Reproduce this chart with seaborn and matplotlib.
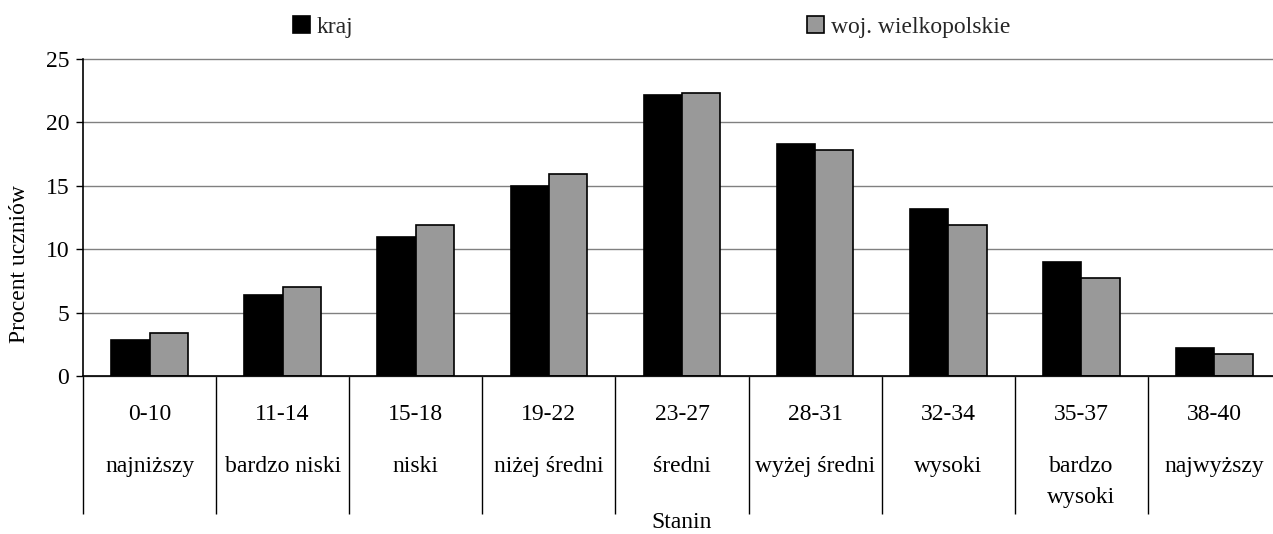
import numpy as np
import pandas as pd
import matplotlib
matplotlib.use("Agg")
import matplotlib.pyplot as plt
import matplotlib.transforms as mtransforms
import seaborn as sns

# ---- data ----
ranges = ["0-10", "11-14", "15-18", "19-22", "23-27", "28-31", "32-34", "35-37", "38-40"]
stanins = ["najniższy", "bardzo niski", "niski", "niżej średni", "średni",
           "wyżej średni", "wysoki", "bardzo\nwysoki", "najwyższy"]
series_names = ["kraj", "woj. wielkopolskie"]
kraj = [2.8, 6.4, 11.0, 15.0, 22.2, 18.3, 13.2, 9.0, 2.2]
wlkp = [3.4, 7.0, 11.9, 15.9, 22.3, 17.8, 11.9, 7.7, 1.7]
yticks = [0, 5, 10, 15, 20, 25]
ylabel = "Procent uczniów"
xlabel = "Stanin"

sns.set_theme(style="white")
plt.rcParams["font.family"] = ["Liberation Serif", "DejaVu Serif"]
FS = 17

W, H = 1273, 534
fig = plt.figure(figsize=(W / 100, H / 100), dpi=100)
ax = fig.add_axes([83 / W, (H - 376) / H, 1198 / W, 317 / H])

df = pd.DataFrame({
    "range": ranges * 2,
    "series": [series_names[0]] * len(ranges) + [series_names[1]] * len(ranges),
    "value": kraj + wlkp,
})

sns.barplot(data=df, x="range", y="value", hue="series", order=ranges,
            hue_order=series_names,
            palette={series_names[0]: "#000000", series_names[1]: "#999999"},
            width=0.576, gap=0, edgecolor="black", linewidth=1.2,
            saturation=1, ax=ax, legend=True)

ax.set_xlim(-0.5, len(ranges) - 0.5)
ax.set_ylim(0, 25)
ax.set_yticks(yticks)
ax.set_yticklabels([str(t) for t in yticks], fontsize=FS, color="black")
ax.tick_params(axis="y", length=5, width=1, color="black", pad=5, left=True)

ax.yaxis.grid(True, color="#808080", linewidth=1.0)
ax.xaxis.grid(False)
ax.set_axisbelow(True)
for gl in ax.get_ygridlines():
    gl.set_clip_on(False)

# category dividers as long x ticks at boundaries
bounds = np.arange(-0.5, len(ranges), 1.0)
ax.set_xticks(bounds)
ax.set_xticklabels([""] * len(bounds))
ax.tick_params(axis="x", length=(514 - 376) * 0.72, width=1, color="black",
               direction="out", bottom=True)

for s in ["top", "right"]:
    ax.spines[s].set_visible(False)
for s in ["left", "bottom"]:
    ax.spines[s].set_color("black")
    ax.spines[s].set_linewidth(1.2)

ax.set_xlabel("")
ax.set_ylabel("")

trans = mtransforms.blended_transform_factory(ax.transData, fig.transFigure)
for i, (r, s) in enumerate(zip(ranges, stanins)):
    ax.text(i, (H - 420) / H, r, transform=trans, ha="center", va="baseline",
            fontsize=FS, color="black")
    for k, line in enumerate(s.split("\n")):
        ax.text(i, (H - 472 - 31 * k) / H, line, transform=trans, ha="center",
                va="baseline", fontsize=FS, color="black")

fig.text((83 + 599) / W, (H - 523) / H, xlabel, ha="center", va="center",
         fontsize=FS, color="black")
fig.text(20 / W, (H - 264) / H, ylabel, ha="center", va="center",
         rotation=90, fontsize=FS, color="black")

handles, labels = ax.get_legend_handles_labels()
if ax.get_legend() is not None:
    ax.get_legend().remove()
fig.legend(handles, labels, loc="center left",
           bbox_to_anchor=(293 / W, 1 - 27 / H), bbox_transform=fig.transFigure,
           ncol=2, frameon=False, fontsize=FS, handlelength=0.7,
           handleheight=0.7, handletextpad=0.32, columnspacing=19.2,
           borderpad=0, borderaxespad=0)

fig.savefig("out.png", dpi=100)
